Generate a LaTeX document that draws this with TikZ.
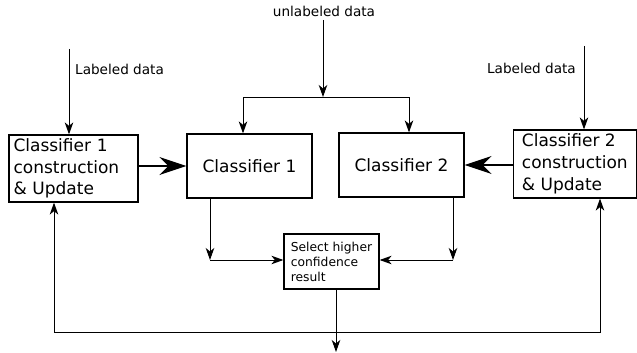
\documentclass[tikz,border=0pt]{standalone}
\usepackage{fontspec}
\setmainfont{DejaVu Sans}
\usetikzlibrary{arrows.meta}
\begin{document}
\begin{tikzpicture}[x=1pt,y=-1pt,
  box/.style={draw,line width=1.2pt,inner sep=0pt},
  bigtxt/.style={font=\fontsize{17}{21.7}\selectfont},
  lbl/.style={font=\fontsize{13.6}{16}\selectfont,inner sep=0pt},
  arr/.style={line width=1pt,-{Stealth[length=12pt,width=8.5pt,inset=3.5pt]}},
  dblarr/.style={line width=1pt,{Stealth[length=12pt,width=8.5pt,inset=3.5pt]}-{Stealth[length=12pt,width=8.5pt,inset=3.5pt]}},
  thickarr/.style={line width=2pt,-{Stealth[length=27pt,width=18pt,inset=9pt]}},
  ln/.style={line width=1pt}]
\useasboundingbox (0,0) rectangle (637,353);
% boxes
\node[box,bigtxt,minimum width=129pt,minimum height=67pt,text width=120pt,align=left] (c1c) at (73.5,168.5) {Classifier 1\\construction\\\&~Update};
\node[box,bigtxt,minimum width=125pt,minimum height=64pt,align=center] (c1) at (249.5,166) {Classifier 1};
\node[box,bigtxt,minimum width=125pt,minimum height=64pt,align=center] (c2) at (401.5,165) {Classifier 2};
\node[box,bigtxt,minimum width=123pt,minimum height=68pt,align=left] (c2c) at (574.8,164) {Classifier 2\\construction\\\&~Update};
\node[box,font=\fontsize{12.3}{15}\selectfont,minimum width=95pt,minimum height=55pt,align=left] (sel) at (331.5,261.5) {Select higher\\confidence\\result};
% labels
\node[lbl,anchor=west] (lab1) at (75,69) {Labeled data};
\node[lbl,anchor=east] (lab2) at (576,68) {Labeled data};
\node[lbl] (unl) at (324,11) {unlabeled data};
% coordinates
\coordinate (l1) at (69,49);
\coordinate (l2) at (584,46);
\coordinate (um) at (323,97);
\coordinate (ul) at (243,97);
\coordinate (ur) at (409,97);
\coordinate (j1) at (210,260);
\coordinate (j2) at (453,260);
\coordinate (out) at (336,352);
\coordinate (fl) at (54,332);
\coordinate (fr) at (600,332);
% connectors
\draw[arr] (um |- 0,20) -- (um);
\draw[arr] (l1) -- (l1 |- c1c.north);
\draw[arr] (l2) -- (l2 |- c2c.north);
\draw[ln] (ul) -- (ur);
\draw[arr] (ul) -- (ul |- c1.north);
\draw[arr] (ur) -- (ur |- c2.north);
\draw[thickarr] (c1c.east |- c1.west) -- (c1.west);
\draw[thickarr] (c2c.west |- c2.east) -- (c2.east);
\draw[arr] (c1.south -| j1) -- (j1);
\draw[arr] (j1) -- (sel.west |- j1);
\draw[arr] (c2.south -| j2) -- (j2);
\draw[arr] (j2) -- (sel.east |- j2);
\draw[arr] (sel.south -| out) -- (out);
\draw[dblarr] (c1c.south -| fl) -- (fl) -- (fr) -- (c2c.south -| fr);
\end{tikzpicture}
\end{document}
